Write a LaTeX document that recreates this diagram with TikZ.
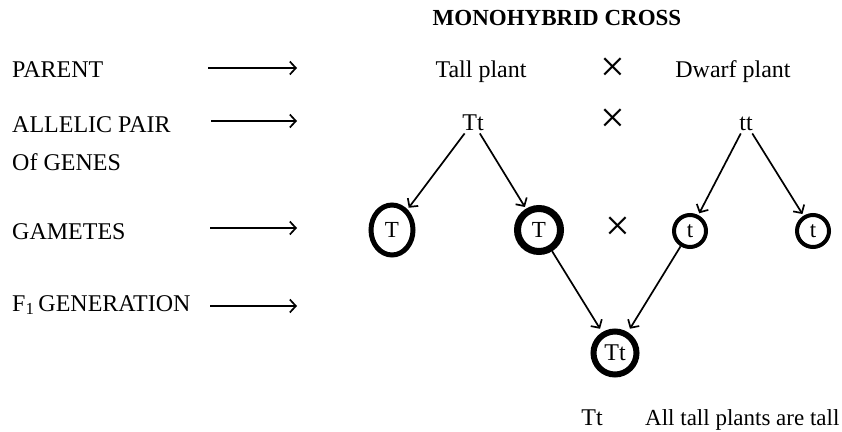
\documentclass[tikz,border=0pt]{standalone}
\usepackage{fontspec}
\setmainfont{Liberation Serif}
\usetikzlibrary{arrows.meta,shapes.geometric}

\begin{document}
\begin{tikzpicture}[
  x=1pt, y=-1pt,
  lbl/.style     = {anchor=base west, inner sep=0pt, font=\fontsize{24}{28}\selectfont},
  txt/.style     = {anchor=base, inner sep=0pt, font=\fontsize{24}{28}\selectfont},
  geno/.style    = {txt, inner sep=3pt},
  cross/.style   = {inner sep=0pt, font=\fontsize{44}{44}\selectfont},
  gam/.style     = {circle, draw, inner sep=0pt, font=\fontsize{23}{26}\selectfont},
  arr/.style     = {-{Straight Barb[length=6pt,width=13pt,line width=1.7pt]}, line width=1.7pt},
]
\useasboundingbox (0,0) rectangle (842,431);

% title
\node[anchor=base, inner sep=0pt, font=\bfseries\fontsize{23}{26}\selectfont] (title) at (557,25) {MONOHYBRID CROSS};

% row labels and their arrows
\node[lbl] (lparent) at (12,77)  {PARENT};
\node[lbl] (lallele) at (12,132) {ALLELIC PAIR};
\node[lbl] (lgenes)  at (12,170) {Of GENES};
\node[lbl] (lgamete) at (12,239) {GAMETES};
\node[lbl] (lfone)   at (12,311) {F\textsubscript{1}\,GENERATION};
\coordinate (a1s) at (208,68);  \coordinate (a1e) at (297,68);
\coordinate (a2s) at (211,121); \coordinate (a2e) at (297,121);
\coordinate (a3s) at (210,228); \coordinate (a3e) at (297,228);
\coordinate (a4s) at (210,306); \coordinate (a4e) at (297,306);
\foreach \i in {1,...,4}
  \draw[arr] (a\i s) -- (a\i e);

% parents
\node[txt] (tall)  at (481,77) {Tall plant};
\node[txt] (dwarf) at (733,77) {Dwarf plant};
\node[cross] (x1) at (613,70)  {×};
\node[geno] (pTt) at (473,130) {Tt};
\node[geno] (ptt) at (746,130) {tt};
\node[cross] (x2) at (613,121) {×};

% gametes
\node[ellipse, draw, line width=5pt, inner sep=0pt, minimum width=42pt, minimum height=50pt,
      font=\fontsize{23}{26}\selectfont] (gT1) at (392,230) {T};
\node[gam, line width=7pt, minimum size=43pt] (gT2) at (539,230) {T};
\node[gam, line width=4pt, minimum size=32pt] (gt1) at (690,231) {t};
\node[gam, line width=4pt, minimum size=32pt] (gt2) at (813,231) {t};
\node[cross] (x3) at (618,229) {×};

% F1
\node[gam, line width=6pt, minimum size=43pt, font=\fontsize{24}{26}\selectfont] (fTt) at (615,353) {Tt};
\node[txt] (rTt) at (592,425) {Tt};
\node[lbl, font=\fontsize{23}{26}\selectfont] (rall) at (645,425) {All tall plants are tall};

\draw[arr, shorten >=2pt] (pTt) -- (gT1);
\draw[arr, shorten >=2pt] (pTt) -- (gT2);
\draw[arr, shorten >=2pt] (ptt) -- (gt1);
\draw[arr, shorten >=2pt] (ptt) -- (gt2);
\draw[arr, shorten >=4pt] (gT2) -- (fTt);
\draw[arr, shorten >=4pt] (gt1) -- (fTt);
\end{tikzpicture}
\end{document}
